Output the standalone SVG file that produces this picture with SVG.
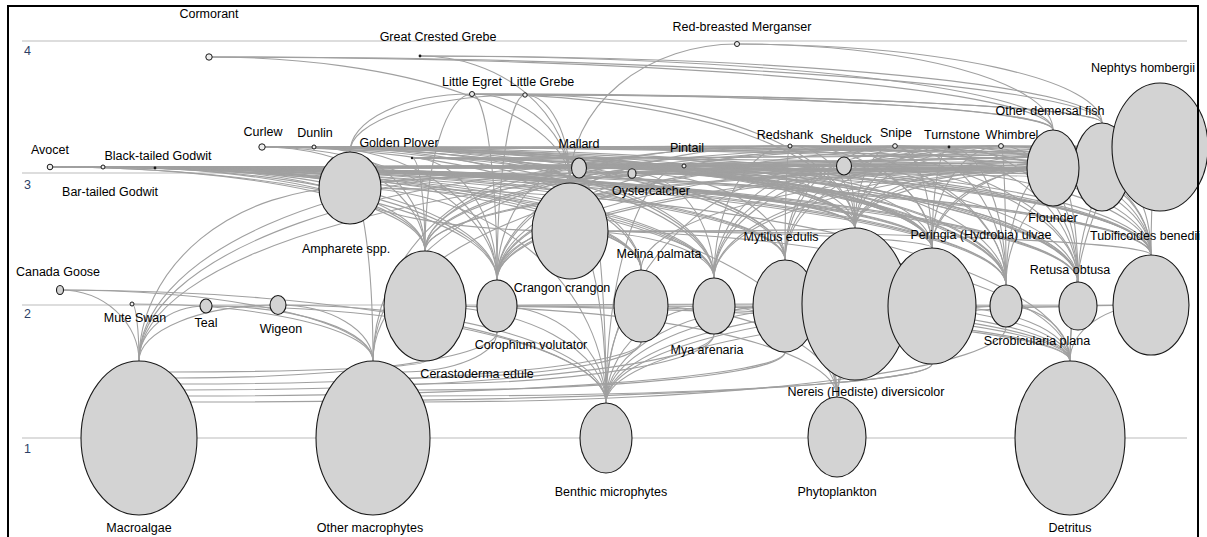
<svg xmlns="http://www.w3.org/2000/svg" width="1207" height="537" viewBox="0 0 1207 537">
<style>
.lvl{stroke:#d2d2d2;stroke-width:1.5}
.lvn{font-family:"Liberation Sans",Arial,sans-serif;font-size:12.5px;fill:#2d3f66}
#connectors path{fill:none;stroke:#a0a0a0;stroke-width:1.1}
.n ellipse{fill:#d3d3d3;stroke:#1a1a1a;stroke-width:1.1}
.d{fill:#eeeeee;stroke:#1a1a1a;stroke-width:1}
.k{fill:#1a1a1a}
.lb{font-family:"Liberation Sans",Arial,sans-serif;font-size:12.5px;fill:#000;text-anchor:middle}
</style>
<rect width="1207" height="537" fill="#fff"/>
<g id="levels">
<line class="lvl" x1="22" y1="41" x2="1187" y2="41"/>
<line class="lvl" x1="22" y1="173" x2="1187" y2="173"/>
<line class="lvl" x1="22" y1="305" x2="1187" y2="305"/>
<line class="lvl" x1="22" y1="438" x2="1187" y2="438"/>
<text class="lvn" x="24" y="55">4</text>
<text class="lvn" x="24" y="189">3</text>
<text class="lvn" x="24" y="318">2</text>
<text class="lvn" x="24" y="453">1</text>
</g>
<g id="connectors">
<path d="M209 57A844 73 0 0 1 1053 130"/>
<path d="M209 57A893 66 0 0 1 1102 123"/>
<path d="M209 57A361 126 0 0 1 570 183"/>
<path d="M420 56A633 74 0 0 1 1053 130"/>
<path d="M420 56A682 67 0 0 1 1102 123"/>
<path d="M420 56A150 127 0 0 1 570 183"/>
<path d="M737 44A316 86 0 0 1 1053 130"/>
<path d="M737 44A365 79 0 0 1 1102 123"/>
<path d="M737 44A167 139 0 0 0 570 183"/>
<path d="M472 94A581 36 0 0 1 1053 130"/>
<path d="M472 94A630 29 0 0 1 1102 123"/>
<path d="M472 94A98 89 0 0 1 570 183"/>
<path d="M472 94A25 186 0 0 1 497 280"/>
<path d="M472 94A383 134 0 0 1 855 228"/>
<path d="M472 94A122 58 0 0 0 350 152"/>
<path d="M472 94A47 157 0 0 0 425 251"/>
<path d="M525 95A528 35 0 0 1 1053 130"/>
<path d="M525 95A577 28 0 0 1 1102 123"/>
<path d="M525 95A45 88 0 0 1 570 183"/>
<path d="M525 95A28 185 0 0 0 497 280"/>
<path d="M525 95A175 57 0 0 0 350 152"/>
<path d="M525 95A330 133 0 0 1 855 228"/>
<path d="M50 167A805 61 0 0 1 855 228"/>
<path d="M50 167A882 81 0 0 1 932 248"/>
<path d="M50 167A447 113 0 0 1 497 280"/>
<path d="M50 167A520 16 0 0 1 570 183"/>
<path d="M50 167A1101 88 0 0 1 1151 255"/>
<path d="M50 167A1110 20 0 0 0 1160 147"/>
<path d="M50 167A956 118 0 0 1 1006 285"/>
<path d="M50 167A300 21 0 0 1 350 188"/>
<path d="M50 167A1028 115 0 0 1 1078 282"/>
<path d="M50 167A664 111 0 0 1 714 278"/>
<path d="M50 167A591 103 0 0 1 641 270"/>
<path d="M50 167A735 93 0 0 1 785 260"/>
<path d="M50 167A375 84 0 0 1 425 251"/>
<path d="M50 167A1003 9 0 0 1 1053 176"/>
<path d="M50 167A1052 7 0 0 0 1102 160"/>
<path d="M50 167A1110 9 0 0 0 1160 158"/>
<path d="M103 167A752 61 0 0 1 855 228"/>
<path d="M103 167A1057 20 0 0 0 1160 147"/>
<path d="M103 167A322 84 0 0 1 425 251"/>
<path d="M103 167A903 118 0 0 1 1006 285"/>
<path d="M103 167A611 111 0 0 1 714 278"/>
<path d="M103 167A1048 88 0 0 1 1151 255"/>
<path d="M103 167A247 21 0 0 1 350 188"/>
<path d="M103 167A394 113 0 0 1 497 280"/>
<path d="M103 167A829 81 0 0 1 932 248"/>
<path d="M103 167A975 115 0 0 1 1078 282"/>
<path d="M103 167A682 93 0 0 1 785 260"/>
<path d="M103 167A538 103 0 0 1 641 270"/>
<path d="M103 167A467 16 0 0 1 570 183"/>
<path d="M103 167A950 5 0 0 1 1053 172"/>
<path d="M103 167A999 11 0 0 1 1102 178"/>
<path d="M103 167A1057 12 0 0 0 1160 155"/>
<path d="M155 168A700 60 0 0 1 855 228"/>
<path d="M155 168A1005 21 0 0 0 1160 147"/>
<path d="M155 168A851 117 0 0 1 1006 285"/>
<path d="M155 168A270 83 0 0 1 425 251"/>
<path d="M155 168A559 110 0 0 1 714 278"/>
<path d="M155 168A996 87 0 0 1 1151 255"/>
<path d="M155 168A342 112 0 0 1 497 280"/>
<path d="M155 168A777 80 0 0 1 932 248"/>
<path d="M155 168A923 114 0 0 1 1078 282"/>
<path d="M155 168A630 92 0 0 1 785 260"/>
<path d="M155 168A415 15 0 0 1 570 183"/>
<path d="M155 168A195 20 0 0 1 350 188"/>
<path d="M155 168A486 102 0 0 1 641 270"/>
<path d="M155 168A898 8 0 0 0 1053 160"/>
<path d="M155 168A947 4 0 0 1 1102 172"/>
<path d="M155 168A1005 6 0 0 0 1160 162"/>
<path d="M262 147A593 81 0 0 1 855 228"/>
<path d="M262 147L1160 147"/>
<path d="M262 147A163 104 0 0 1 425 251"/>
<path d="M262 147A452 131 0 0 1 714 278"/>
<path d="M262 147A744 138 0 0 1 1006 285"/>
<path d="M262 147A308 36 0 0 1 570 183"/>
<path d="M262 147A235 133 0 0 1 497 280"/>
<path d="M262 147A523 113 0 0 1 785 260"/>
<path d="M262 147A670 101 0 0 1 932 248"/>
<path d="M262 147A889 108 0 0 1 1151 255"/>
<path d="M262 147A816 135 0 0 1 1078 282"/>
<path d="M262 147A88 5 0 0 1 350 152"/>
<path d="M262 147A379 123 0 0 1 641 270"/>
<path d="M262 147A791 18 0 0 1 1053 165"/>
<path d="M262 147A840 28 0 0 1 1102 175"/>
<path d="M262 147A898 10 0 0 1 1160 157"/>
<path d="M314 147A541 81 0 0 1 855 228"/>
<path d="M314 147A618 101 0 0 1 932 248"/>
<path d="M314 147A183 133 0 0 1 497 280"/>
<path d="M314 147A692 138 0 0 1 1006 285"/>
<path d="M314 147A837 108 0 0 1 1151 255"/>
<path d="M314 148L1160 148"/>
<path d="M314 147A764 135 0 0 1 1078 282"/>
<path d="M314 147A36 5 0 0 1 350 152"/>
<path d="M314 147A111 104 0 0 1 425 251"/>
<path d="M314 147A400 131 0 0 1 714 278"/>
<path d="M314 147A471 113 0 0 1 785 260"/>
<path d="M314 147A256 36 0 0 1 570 183"/>
<path d="M314 147A327 123 0 0 1 641 270"/>
<path d="M314 147A739 11 0 0 1 1053 158"/>
<path d="M314 147A788 23 0 0 1 1102 170"/>
<path d="M314 147A846 13 0 0 1 1160 160"/>
<path d="M412 158A443 70 0 0 1 855 228"/>
<path d="M412 158A748 11 0 0 0 1160 147"/>
<path d="M412 158A739 97 0 0 1 1151 255"/>
<path d="M412 158A85 122 0 0 1 497 280"/>
<path d="M412 158A520 90 0 0 1 932 248"/>
<path d="M412 158A594 127 0 0 1 1006 285"/>
<path d="M412 158A13 93 0 0 1 425 251"/>
<path d="M412 158A373 102 0 0 1 785 260"/>
<path d="M412 158A666 124 0 0 1 1078 282"/>
<path d="M412 158A302 120 0 0 1 714 278"/>
<path d="M412 158A641 12 0 0 1 1053 170"/>
<path d="M412 158A690 6 0 0 0 1102 152"/>
<path d="M632 173A207 78 0 0 0 425 251"/>
<path d="M632 173A153 87 0 0 1 785 260"/>
<path d="M632 173A82 105 0 0 1 714 278"/>
<path d="M632 173A374 112 0 0 1 1006 285"/>
<path d="M632 173A223 55 0 0 1 855 228"/>
<path d="M632 173A528 26 0 0 0 1160 147"/>
<path d="M632 173A300 75 0 0 1 932 248"/>
<path d="M632 173A446 109 0 0 1 1078 282"/>
<path d="M632 173A519 82 0 0 1 1151 255"/>
<path d="M632 173A421 5 0 0 1 1053 178"/>
<path d="M790 146A65 82 0 0 1 855 228"/>
<path d="M790 146A142 102 0 0 1 932 248"/>
<path d="M790 146A293 134 0 0 0 497 280"/>
<path d="M790 146A220 37 0 0 0 570 183"/>
<path d="M790 146A216 139 0 0 1 1006 285"/>
<path d="M790 146L1160 147"/>
<path d="M790 146A361 109 0 0 1 1151 255"/>
<path d="M790 146A440 6 0 0 0 350 152"/>
<path d="M790 146A5 114 0 0 0 785 260"/>
<path d="M790 146A288 136 0 0 1 1078 282"/>
<path d="M790 146A365 105 0 0 0 425 251"/>
<path d="M790 146A76 132 0 0 0 714 278"/>
<path d="M790 146A263 16 0 0 1 1053 162"/>
<path d="M895 146A40 82 0 0 0 855 228"/>
<path d="M895 146A256 109 0 0 1 1151 255"/>
<path d="M895 146L1160 146"/>
<path d="M895 146A398 134 0 0 0 497 280"/>
<path d="M895 146A545 6 0 0 0 350 152"/>
<path d="M895 146A111 139 0 0 1 1006 285"/>
<path d="M895 146A37 102 0 0 1 932 248"/>
<path d="M895 146A183 136 0 0 1 1078 282"/>
<path d="M895 146A110 114 0 0 0 785 260"/>
<path d="M895 146A158 12 0 0 1 1053 158"/>
<path d="M949 147A164 113 0 0 0 785 260"/>
<path d="M949 147A524 104 0 0 0 425 251"/>
<path d="M949 147A17 101 0 0 0 932 248"/>
<path d="M949 147A57 138 0 0 1 1006 285"/>
<path d="M949 147A94 81 0 0 0 855 228"/>
<path d="M949 147A129 135 0 0 1 1078 282"/>
<path d="M949 147A235 131 0 0 0 714 278"/>
<path d="M949 147A202 108 0 0 1 1151 255"/>
<path d="M1001 146A146 82 0 0 0 855 228"/>
<path d="M1001 146L1160 147"/>
<path d="M1001 146A576 105 0 0 0 425 251"/>
<path d="M1001 146A5 139 0 0 1 1006 285"/>
<path d="M1001 146A431 37 0 0 0 570 183"/>
<path d="M1001 146A216 114 0 0 0 785 260"/>
<path d="M1001 146A69 102 0 0 0 932 248"/>
<path d="M1001 146A150 109 0 0 1 1151 255"/>
<path d="M1001 146A77 136 0 0 1 1078 282"/>
<path d="M1001 146A504 134 0 0 0 497 280"/>
<path d="M1001 146A287 132 0 0 0 714 278"/>
<path d="M578 168A354 80 0 0 1 932 248"/>
<path d="M578 168A439 193 0 0 0 139 361"/>
<path d="M578 168A205 193 0 0 0 373 361"/>
<path d="M578 168A81 112 0 0 0 497 280"/>
<path d="M578 168A28 235 0 0 1 606 403"/>
<path d="M578 168A573 87 0 0 1 1151 255"/>
<path d="M578 168A277 60 0 0 1 855 228"/>
<path d="M578 168A428 117 0 0 1 1006 285"/>
<path d="M578 168A500 114 0 0 1 1078 282"/>
<path d="M578 168A475 6 0 0 1 1053 174"/>
<path d="M684 166A248 82 0 0 1 932 248"/>
<path d="M684 166A545 195 0 0 0 139 361"/>
<path d="M684 166A311 195 0 0 0 373 361"/>
<path d="M684 166A187 114 0 0 0 497 280"/>
<path d="M684 166A322 119 0 0 1 1006 285"/>
<path d="M684 166A171 62 0 0 1 855 228"/>
<path d="M684 166A467 89 0 0 1 1151 255"/>
<path d="M684 166A394 116 0 0 1 1078 282"/>
<path d="M684 166A78 237 0 0 0 606 403"/>
<path d="M684 166A369 4 0 0 1 1053 170"/>
<path d="M843 165A89 83 0 0 1 932 248"/>
<path d="M843 165A346 115 0 0 0 497 280"/>
<path d="M843 165A12 63 0 0 1 855 228"/>
<path d="M843 165A163 120 0 0 1 1006 285"/>
<path d="M843 165A308 90 0 0 1 1151 255"/>
<path d="M843 165A235 117 0 0 1 1078 282"/>
<path d="M843 165A704 196 0 0 0 139 361"/>
<path d="M843 165A237 238 0 0 0 606 403"/>
<path d="M843 165A470 196 0 0 0 373 361"/>
<path d="M843 165A58 95 0 0 0 785 260"/>
<path d="M843 165A129 113 0 0 0 714 278"/>
<path d="M843 165A210 7 0 0 1 1053 172"/>
<path d="M206 306A67 55 0 0 0 139 361"/>
<path d="M206 306A167 55 0 0 1 373 361"/>
<path d="M206 306A400 97 0 0 1 606 403"/>
<path d="M278 305A139 56 0 0 0 139 361"/>
<path d="M278 305A95 56 0 0 1 373 361"/>
<path d="M278 305A328 98 0 0 1 606 403"/>
<path d="M60 290A79 71 0 0 1 139 361"/>
<path d="M60 290A313 71 0 0 1 373 361"/>
<path d="M60 290A546 113 0 0 1 606 403"/>
<path d="M132 304A7 57 0 0 1 139 361"/>
<path d="M132 304A241 57 0 0 1 373 361"/>
<path d="M1053 168A198 60 0 0 0 855 228"/>
<path d="M1053 168A556 112 0 0 0 497 280"/>
<path d="M1053 168A483 15 0 0 0 570 183"/>
<path d="M1053 168A121 80 0 0 0 932 248"/>
<path d="M1053 168A98 87 0 0 1 1151 255"/>
<path d="M1053 168A47 117 0 0 0 1006 285"/>
<path d="M1053 168A339 110 0 0 0 714 278"/>
<path d="M1053 168A628 83 0 0 0 425 251"/>
<path d="M1053 168A703 20 0 0 0 350 188"/>
<path d="M1053 168A25 114 0 0 1 1078 282"/>
<path d="M1102 167A532 16 0 0 0 570 183"/>
<path d="M1102 167A247 61 0 0 0 855 228"/>
<path d="M1102 167A605 113 0 0 0 497 280"/>
<path d="M1102 167A752 21 0 0 0 350 188"/>
<path d="M1102 167A49 88 0 0 1 1151 255"/>
<path d="M1102 167A677 84 0 0 0 425 251"/>
<path d="M1102 167A388 111 0 0 0 714 278"/>
<path d="M1102 167A461 103 0 0 0 641 270"/>
<path d="M1160 147A9 108 0 0 0 1151 255"/>
<path d="M1160 147A305 81 0 0 0 855 228"/>
<path d="M1160 147A228 101 0 0 0 932 248"/>
<path d="M1160 147A663 133 0 0 0 497 280"/>
<path d="M1160 147A82 135 0 0 0 1078 282"/>
<path d="M1160 147A154 138 0 0 0 1006 285"/>
<path d="M1160 147A90 214 0 0 0 1070 361"/>
<path d="M570 231A73 49 0 0 0 497 280"/>
<path d="M570 231A285 3 0 0 0 855 228"/>
<path d="M570 231A362 17 0 0 1 932 248"/>
<path d="M570 231A220 43 0 0 1 350 188"/>
<path d="M570 231A36 172 0 0 1 606 403"/>
<path d="M570 231A500 130 0 0 1 1070 361"/>
<path d="M570 231A71 39 0 0 1 641 270"/>
<path d="M570 231A144 47 0 0 1 714 278"/>
<path d="M570 231A581 24 0 0 1 1151 255"/>
<path d="M350 188A720 173 0 0 1 1070 361"/>
<path d="M350 188A256 215 0 0 1 606 403"/>
<path d="M350 188A487 209 0 0 1 837 397"/>
<path d="M350 188A23 173 0 0 1 373 361"/>
<path d="M350 188A211 173 0 0 0 139 361"/>
<path d="M425 306A412 91 0 0 1 837 397"/>
<path d="M425 306A645 55 0 0 1 1070 361"/>
<path d="M425 306A181 97 0 0 1 606 403"/>
<path d="M497 306A109 97 0 0 1 606 403"/>
<path d="M497 306A573 55 0 0 1 1070 361"/>
<path d="M641 306A429 55 0 0 1 1070 361"/>
<path d="M641 306A35 97 0 0 0 606 403"/>
<path d="M641 306A196 91 0 0 1 837 397"/>
<path d="M714 306A123 91 0 0 1 837 397"/>
<path d="M714 306A356 55 0 0 1 1070 361"/>
<path d="M714 306A108 97 0 0 0 606 403"/>
<path d="M785 306A52 91 0 0 1 837 397"/>
<path d="M785 306A285 55 0 0 1 1070 361"/>
<path d="M785 306A179 97 0 0 0 606 403"/>
<path d="M855 304A215 57 0 0 1 1070 361"/>
<path d="M855 304A249 99 0 0 0 606 403"/>
<path d="M855 304A358 2 0 0 0 497 306"/>
<path d="M932 306A326 97 0 0 0 606 403"/>
<path d="M932 306A138 55 0 0 1 1070 361"/>
<path d="M932 306A95 91 0 0 0 837 397"/>
<path d="M1006 306A64 55 0 0 1 1070 361"/>
<path d="M1006 306A400 97 0 0 0 606 403"/>
<path d="M1006 306A169 91 0 0 0 837 397"/>
<path d="M1078 306L932 306"/>
<path d="M1078 307L990 307"/>
<path d="M1078 306L1151 305"/>
<path d="M1078 306A8 55 0 0 0 1070 361"/>
<path d="M1151 305A81 56 0 0 0 1070 361"/>
<path d="M1151 305A545 98 0 0 0 606 403"/>
<path d="M169 372A256 11 0 0 0 425 361"/>
<path d="M175 378A322 46 0 0 0 497 332"/>
<path d="M180 384A461 42 0 0 0 641 342"/>
<path d="M184 390A530 56 0 0 0 714 334"/>
<path d="M188 396A597 44 0 0 0 785 352"/>
<path d="M190 402A742 38 0 0 0 932 364"/>
<path d="M402 372A95 40 0 0 0 497 332"/>
<path d="M409 378A232 36 0 0 0 641 342"/>
<path d="M414 384A300 50 0 0 0 714 334"/>
<path d="M418 390A367 38 0 0 0 785 352"/>
<path d="M421 396A511 32 0 0 0 932 364"/>
<path d="M423 402A583 75 0 0 0 1006 327"/>
</g>
<g id="n-cormorant" class="n"><circle class="d" cx="209" cy="57" r="3.2"/><text class="lb" x="209" y="18">Cormorant</text></g>
<g id="n-great-crested-grebe" class="n"><circle class="k" cx="420" cy="56" r="1.4"/><text class="lb" x="438" y="41">Great Crested Grebe</text></g>
<g id="n-red-breasted-merganser" class="n"><circle class="d" cx="737" cy="44" r="2.5"/><text class="lb" x="742" y="31">Red-breasted Merganser</text></g>
<g id="n-little-egret" class="n"><circle class="d" cx="472" cy="94" r="2.5"/><text class="lb" x="472" y="86">Little Egret</text></g>
<g id="n-little-grebe" class="n"><circle class="d" cx="525" cy="95" r="2.2"/><text class="lb" x="542" y="86">Little Grebe</text></g>
<g id="n-avocet" class="n"><circle class="d" cx="50" cy="167" r="2.8"/><text class="lb" x="50" y="154">Avocet</text></g>
<g id="n-bar-tailed-godwit" class="n"><circle class="d" cx="103" cy="167" r="2"/><text class="lb" x="110" y="196">Bar-tailed Godwit</text></g>
<g id="n-black-tailed-godwit" class="n"><circle class="k" cx="155" cy="168" r="1.4"/><text class="lb" x="158" y="160">Black-tailed Godwit</text></g>
<g id="n-curlew" class="n"><circle class="d" cx="262" cy="147" r="3.2"/><text class="lb" x="263" y="136">Curlew</text></g>
<g id="n-dunlin" class="n"><circle class="d" cx="314" cy="147" r="2"/><text class="lb" x="315" y="137">Dunlin</text></g>
<g id="n-golden-plover" class="n"><circle class="k" cx="412" cy="158" r="1.2"/><text class="lb" x="399" y="147">Golden Plover</text></g>
<g id="n-mallard" class="n"><ellipse cx="579" cy="168" rx="7.5" ry="10"/><text class="lb" x="579" y="148">Mallard</text></g>
<g id="n-oystercatcher" class="n"><ellipse cx="632" cy="173.5" rx="4" ry="4.8"/><text class="lb" x="651" y="195">Oystercatcher</text></g>
<g id="n-pintail" class="n"><circle class="d" cx="684" cy="166" r="2"/><text class="lb" x="687" y="152">Pintail</text></g>
<g id="n-redshank" class="n"><circle class="d" cx="790" cy="146" r="2"/><text class="lb" x="785" y="139">Redshank</text></g>
<g id="n-shelduck" class="n"><ellipse cx="844" cy="166" rx="7.5" ry="9"/><text class="lb" x="846" y="143">Shelduck</text></g>
<g id="n-snipe" class="n"><circle class="d" cx="895" cy="146" r="2.3"/><text class="lb" x="896" y="137">Snipe</text></g>
<g id="n-turnstone" class="n"><circle class="k" cx="949" cy="147" r="1.4"/><text class="lb" x="952" y="139">Turnstone</text></g>
<g id="n-whimbrel" class="n"><circle class="d" cx="1001" cy="146" r="2.4"/><text class="lb" x="1012" y="139">Whimbrel</text></g>
<g id="n-other-demersal-fish" class="n"><ellipse cx="1102" cy="167" rx="28" ry="44"/><text class="lb" x="1050" y="115">Other demersal fish</text></g>
<g id="n-nephtys-hombergii" class="n"><ellipse cx="1160" cy="147" rx="48" ry="64"/><text class="lb" x="1143" y="72">Nephtys hombergii</text></g>
<g id="n-flounder" class="n"><ellipse cx="1053" cy="168" rx="26" ry="38"/><text class="lb" x="1053" y="222">Flounder</text></g>
<g id="n-ampharete" class="n"><ellipse cx="350" cy="188" rx="31" ry="36"/><text class="lb" x="346" y="253">Ampharete spp.</text></g>
<g id="n-crangon-crangon" class="n"><ellipse cx="570" cy="231" rx="38" ry="48"/><text class="lb" x="562" y="292">Crangon crangon</text></g>
<g id="n-canada-goose" class="n"><ellipse class="d" cx="60" cy="290" rx="3.5" ry="4.5"/><text class="lb" x="58" y="276">Canada Goose</text></g>
<g id="n-mute-swan" class="n"><circle class="d" cx="132" cy="304" r="2"/><text class="lb" x="135" y="322">Mute Swan</text></g>
<g id="n-teal" class="n"><ellipse cx="206" cy="306" rx="6" ry="7"/><text class="lb" x="206" y="327">Teal</text></g>
<g id="n-wigeon" class="n"><ellipse cx="278" cy="305" rx="8" ry="9.5"/><text class="lb" x="281" y="333">Wigeon</text></g>
<g id="n-cerastoderma-edule" class="n"><ellipse cx="425" cy="306" rx="41" ry="55"/><text class="lb" x="477" y="378">Cerastoderma edule</text></g>
<g id="n-corophium-volutator" class="n"><ellipse cx="497" cy="306" rx="20" ry="26"/><text class="lb" x="531" y="349">Corophium volutator</text></g>
<g id="n-melina-palmata" class="n"><ellipse cx="641" cy="306" rx="27" ry="36"/><text class="lb" x="659" y="258">Melina palmata</text></g>
<g id="n-mya-arenaria" class="n"><ellipse cx="714" cy="306" rx="21" ry="28"/><text class="lb" x="707" y="354">Mya arenaria</text></g>
<g id="n-mytilus-edulis" class="n"><ellipse cx="785" cy="306" rx="32" ry="46"/><text class="lb" x="781" y="241">Mytilus edulis</text></g>
<g id="n-nereis" class="n"><ellipse cx="855" cy="304" rx="53" ry="76"/><text class="lb" x="866" y="396">Nereis (Hediste) diversicolor</text></g>
<g id="n-peringia" class="n"><ellipse cx="932" cy="306" rx="44" ry="58"/><text class="lb" x="981" y="239">Peringia (Hydrobia) ulvae</text></g>
<g id="n-scrobicularia-plana" class="n"><ellipse cx="1006" cy="306" rx="16" ry="21"/><text class="lb" x="1037" y="345">Scrobicularia plana</text></g>
<g id="n-retusa-obtusa" class="n"><ellipse cx="1078" cy="306" rx="19" ry="24"/><text class="lb" x="1070" y="274">Retusa obtusa</text></g>
<g id="n-tubificoides-benedii" class="n"><ellipse cx="1151" cy="305" rx="38" ry="50"/><text class="lb" x="1145" y="240">Tubificoides benedii</text></g>
<g id="n-macroalgae" class="n"><ellipse cx="139" cy="438" rx="58" ry="77"/><text class="lb" x="139" y="532">Macroalgae</text></g>
<g id="n-other-macrophytes" class="n"><ellipse cx="373" cy="438" rx="57" ry="77"/><text class="lb" x="370" y="532">Other macrophytes</text></g>
<g id="n-benthic-microphytes" class="n"><ellipse cx="606" cy="438" rx="26" ry="35"/><text class="lb" x="611" y="496">Benthic microphytes</text></g>
<g id="n-phytoplankton" class="n"><ellipse cx="837" cy="437" rx="29" ry="40"/><text class="lb" x="837" y="496">Phytoplankton</text></g>
<g id="n-detritus" class="n"><ellipse cx="1070" cy="438" rx="55" ry="77"/><text class="lb" x="1070" y="532">Detritus</text></g>
<rect x="8" y="6" width="1190" height="545" fill="none" stroke="#000" stroke-width="2"/>
</svg>
